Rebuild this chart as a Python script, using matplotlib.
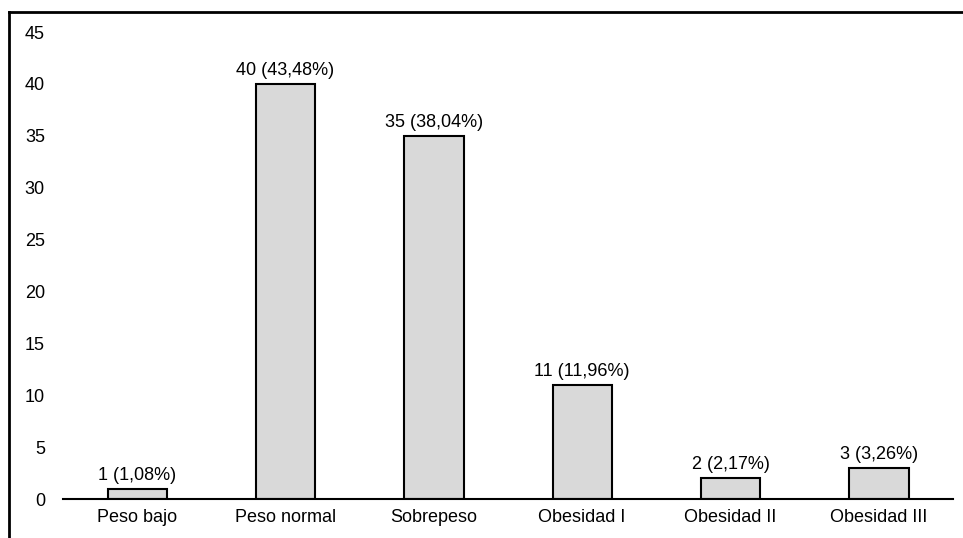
import matplotlib.pyplot as plt
from matplotlib.lines import Line2D

# categorias de IMC y frecuencias
categorias = ['Peso bajo', 'Peso normal', 'Sobrepeso', 'Obesidad I', 'Obesidad II', 'Obesidad III']
frecuencias = [1, 40, 35, 11, 2, 3]
porcentajes = ['1,08%', '43,48%', '38,04%', '11,96%', '2,17%', '3,26%']

plt.rcParams['font.family'] = ['Liberation Sans', 'DejaVu Sans']

fig = plt.figure(figsize=(9.63, 5.38), dpi=100)
ax = fig.add_axes([63 / 963, 1 - 499 / 538, 890 / 963, 467 / 538])

x = range(len(categorias))
ax.bar(x, frecuencias, width=0.4, color='#d9d9d9', edgecolor='black', linewidth=1.5, zorder=2)

for i, (f, p) in enumerate(zip(frecuencias, porcentajes)):
    ax.annotate(f'{f} ({p})', (i, f), xytext=(0, 3.5), textcoords='offset points',
                ha='center', va='bottom', fontsize=13)

ax.set_xlim(-0.5, 5.5)
ax.set_ylim(0, 45)
ax.set_yticks(range(0, 50, 5))
ax.set_xticks(list(x))
ax.set_xticklabels(categorias)
ax.tick_params(axis='both', length=0, labelsize=13)
ax.tick_params(axis='y', pad=13)
ax.tick_params(axis='x', pad=7)

for side in ['top', 'right', 'left']:
    ax.spines[side].set_visible(False)
ax.spines['bottom'].set_linewidth(1.5)
ax.spines['bottom'].set_zorder(3)

# marco exterior (solo izquierda y arriba)
fig.add_artist(Line2D([9 / 963, 9 / 963], [0, 1 - 12 / 538], color='black', linewidth=2,
                      transform=fig.transFigure))
fig.add_artist(Line2D([9 / 963, 1], [1 - 12 / 538, 1 - 12 / 538], color='black', linewidth=2,
                      transform=fig.transFigure))

fig.savefig('out.png', dpi=100)
